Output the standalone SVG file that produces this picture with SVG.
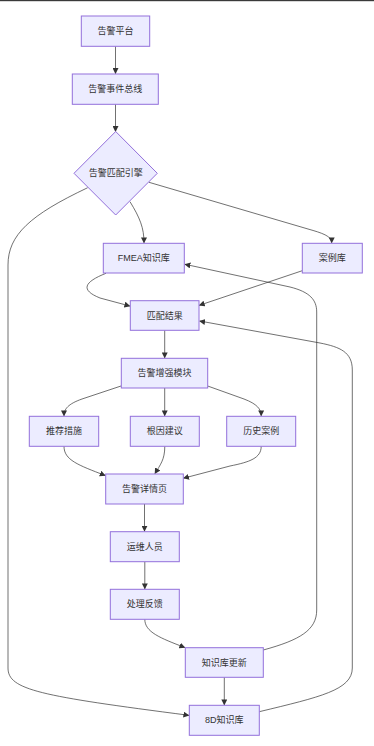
<svg xmlns="http://www.w3.org/2000/svg" width="374" height="746" viewBox="0 0 374 746">
<style>
.n rect,.n polygon{fill:#ECECFF;stroke:#9370DB;stroke-width:1}
.n text{font-family:"Liberation Sans","Noto Sans CJK SC",sans-serif;font-size:9px;fill:#333;text-anchor:middle;dominant-baseline:central}
#edges path{fill:none;stroke:#333;stroke-width:0.7;marker-end:url(#arr)}
</style>
<defs>
<marker id="arr" markerUnits="userSpaceOnUse" markerWidth="6" markerHeight="6" viewBox="0 0 10 10" refX="9" refY="5" orient="auto">
<path d="M0,0 L10,5 L0,10 z" fill="#333"/>
</marker>
</defs>
<rect x="0" y="0" width="374" height="1.2" fill="#3a3a3a"/>
<g id="edges">
<path d="M115.5,46.3 L115.5,73.5"/>
<path d="M115.5,104.3 L115.5,131.5"/>
<path d="M130,201.7 C140,218 144,228 144,242.8"/>
<path d="M149,182.3 L308,229 C322,233 331.7,236 331.7,242.8"/>
<path d="M87.7,187.7 C30,215 8,235 8,265 L8,668 C8,690 40,696 188.8,715.3"/>
<path d="M106,273.3 C84,282 80,290 100,298 L129.8,306"/>
<path d="M302.3,270.7 L199.3,305.3"/>
<path d="M263.3,650 C300,640 316.7,630 316.7,610 L316.7,312 C316.7,300 310,292 290,287 L185,264.3"/>
<path d="M259.3,711.7 C320,697 352.3,690 352.3,668 L352.3,370 C352.3,352 340,347 320,343 L199.7,321"/>
<path d="M164.7,330.3 L164.7,357.8"/>
<path d="M121,386 L82,399 C68,404 64,409 64,415.8"/>
<path d="M164.7,388 L164.7,415.8"/>
<path d="M207.7,386 L244,399 C257,404 261.2,409 261.2,415.8"/>
<path d="M64,446.3 C64,460 78,465 105.2,475.5"/>
<path d="M164.8,446.3 C164.8,460 160,465 155,473.6"/>
<path d="M261.2,446.3 C261.2,458 250,462 230,466 L183.6,478.2"/>
<path d="M144.5,504 L144.5,531.2"/>
<path d="M144.8,561.7 L144.8,588.8"/>
<path d="M144.8,619.3 C144.8,632 160,638 184.8,647.5"/>
<path d="M224.3,677.3 L224.3,704.8"/>
</g>
<g id="n1" class="n"><rect x="81.3" y="16" width="68.4" height="30.3"/><text x="115.5" y="31.2">告警平台</text></g>
<g id="n2" class="n"><rect x="72.3" y="74" width="86" height="30.3"/><text x="115.3" y="89.2">告警事件总线</text></g>
<g id="n3" class="n"><polygon points="115.7,131.5 157.3,173.3 115.7,215 74,173.3"/><text x="115.7" y="173.3">告警匹配引擎</text></g>
<g id="n4" class="n"><rect x="103.3" y="243.3" width="81" height="29.7"/><text x="143.8" y="258.2">FMEA知识库</text></g>
<g id="n5" class="n"><rect x="302.3" y="243.3" width="60" height="29.7"/><text x="332.3" y="258.2">案例库</text></g>
<g id="n6" class="n"><rect x="130.3" y="300.7" width="68.7" height="29.6"/><text x="164.7" y="315.5">匹配结果</text></g>
<g id="n7" class="n"><rect x="121.3" y="358.3" width="86.4" height="29.7"/><text x="164.5" y="373.2">告警增强模块</text></g>
<g id="n8" class="n"><rect x="29.3" y="416.3" width="69.4" height="30"/><text x="64" y="431.3">推荐措施</text></g>
<g id="n9" class="n"><rect x="130.3" y="416.3" width="69" height="30"/><text x="164.8" y="431.3">根因建议</text></g>
<g id="n10" class="n"><rect x="226.7" y="416.3" width="69" height="30"/><text x="261.2" y="431.3">历史案例</text></g>
<g id="n11" class="n"><rect x="105.7" y="474" width="77.6" height="30"/><text x="144.5" y="489">告警详情页</text></g>
<g id="n12" class="n"><rect x="110.3" y="531.7" width="69" height="30"/><text x="144.8" y="546.7">运维人员</text></g>
<g id="n13" class="n"><rect x="110.3" y="589.3" width="69" height="30"/><text x="144.8" y="604.3">处理反馈</text></g>
<g id="n14" class="n"><rect x="185.3" y="647.7" width="78" height="29.6"/><text x="224.3" y="662.5">知识库更新</text></g>
<g id="n15" class="n"><rect x="189.3" y="705.3" width="70" height="30"/><text x="224.3" y="720.3">8D知识库</text></g>
</svg>
